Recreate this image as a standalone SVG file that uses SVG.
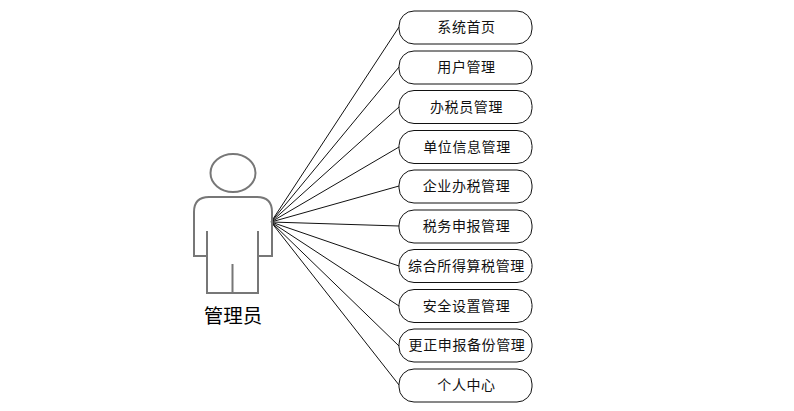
<svg xmlns="http://www.w3.org/2000/svg" width="794" height="411" viewBox="0 0 794 411">
<style>
.n{fill:#fff;stroke:#111;stroke-width:1}
.t{font-family:"Liberation Sans","Noto Sans CJK SC",sans-serif;font-size:14px;letter-spacing:.6px;fill:#111;text-anchor:middle}
.c line{stroke:#111;stroke-width:1}
.a{fill:none;stroke:#777;stroke-width:2}
</style>
<rect width="794" height="411" fill="#fff"/>
<g class="c" id="connectors">
<line x1="271" y1="222" x2="399" y2="27"/>
<line x1="271" y1="222" x2="399" y2="67"/>
<line x1="271" y1="222" x2="399" y2="107"/>
<line x1="271" y1="222" x2="399" y2="147"/>
<line x1="271" y1="222" x2="399" y2="186"/>
<line x1="271" y1="222" x2="399" y2="226"/>
<line x1="271" y1="222" x2="399" y2="266"/>
<line x1="271" y1="222" x2="399" y2="306"/>
<line x1="271" y1="222" x2="399" y2="346"/>
<line x1="271" y1="222" x2="399" y2="385"/>
</g>
<g id="actor">
<ellipse class="a" cx="233" cy="173" rx="22.500" ry="19"/>
<path class="a" d="M207 231V256H194V212Q194 197 209 197H257Q272 197 272 212V256H258V231M207 256V293H258V256M232.500 264V293"/>
<text x="233" y="323" style="font-family:'Liberation Sans','Noto Sans CJK SC',sans-serif;font-size:19.500px" text-anchor="middle">管理员</text>
</g>
<g id="n1"><rect class="n" x="399" y="11" width="133" height="33" rx="15"/><text class="t" x="466.500" y="32">系统首页</text></g>
<g id="n2"><rect class="n" x="399" y="51" width="133" height="33" rx="15"/><text class="t" x="466.500" y="72">用户管理</text></g>
<g id="n3"><rect class="n" x="399" y="90.500" width="133" height="33" rx="15"/><text class="t" x="466.500" y="112">办税员管理</text></g>
<g id="n4"><rect class="n" x="399" y="130.500" width="133" height="33" rx="15"/><text class="t" x="467" y="152">单位信息管理</text></g>
<g id="n5"><rect class="n" x="399" y="170" width="133" height="33" rx="15"/><text class="t" x="466.500" y="191">企业办税管理</text></g>
<g id="n6"><rect class="n" x="399" y="210" width="133" height="33" rx="15"/><text class="t" x="466.500" y="231">税务申报管理</text></g>
<g id="n7"><rect class="n" x="399" y="249.500" width="133" height="33" rx="15"/><text class="t" x="466.500" y="271">综合所得算税管理</text></g>
<g id="n8"><rect class="n" x="399" y="289.500" width="133" height="33" rx="15"/><text class="t" x="466.500" y="311">安全设置管理</text></g>
<g id="n9"><rect class="n" x="399" y="329" width="133" height="33" rx="15"/><text class="t" x="467" y="350">更正申报备份管理</text></g>
<g id="n10"><rect class="n" x="399" y="369" width="133" height="33" rx="15"/><text class="t" x="466.500" y="390">个人中心</text></g>
</svg>
